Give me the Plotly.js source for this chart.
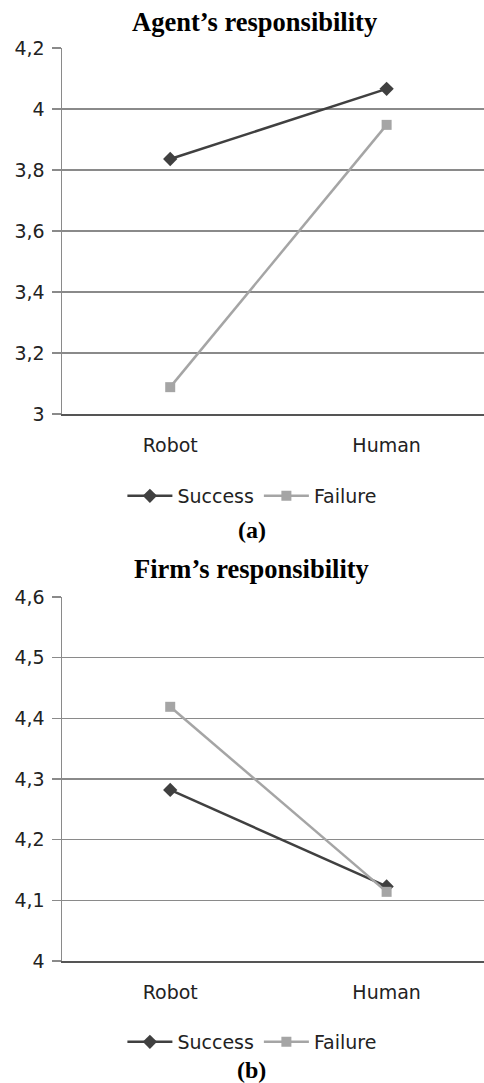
<!DOCTYPE html>
<html>
<head>
<meta charset="utf-8">
<script src="https://cdn.plot.ly/plotly-3.0.1.min.js"></script>
<style>html,body{margin:0;padding:0;background:#fff;}#chart{width:484px;height:1083px;}</style>
</head>
<body>
<div id="chart"></div>
<script>
const categories = ["Robot", "Human"];
const agentSuccess = [3.836, 4.066];
const agentFailure = [3.088, 3.948];
const firmSuccess = [4.282, 4.123];
const firmFailure = [4.419, 4.114];
const seriesNames = ["Success", "Failure"];
const agentTicks = [3, 3.2, 3.4, 3.6, 3.8, 4, 4.2];
const agentTickText = ["3", "3,2", "3,4", "3,6", "3,8", "4", "4,2"];
const firmTicks = [4, 4.1, 4.2, 4.3, 4.4, 4.5, 4.6];
const firmTickText = ["4", "4,1", "4,2", "4,3", "4,4", "4,5", "4,6"];
const titles = ["Agent\u2019s responsibility", "Firm\u2019s responsibility"];
const subLabels = ["(a)", "(b)"];

const H = 1083;
const py = px => 1 - px / H;
const darkC = "#404040", lightC = "#a5a5a5";
const tickFont = {family: "DejaVu Sans", size: 19, color: "#222"};

function mk(name, y, xa, ya, color, sym, leg) {
  return {
    x: categories, y: y, xaxis: xa, yaxis: ya, name: name, legend: leg,
    type: "scatter", mode: "lines+markers", showlegend: true,
    line: {color: color, width: 2.5},
    marker: {symbol: sym, size: sym === "diamond" ? 11 : 10, color: color}
  };
}

const data = [
  mk(seriesNames[0], agentSuccess, "x", "y", darkC, "diamond", "legend"),
  mk(seriesNames[1], agentFailure, "x", "y", lightC, "square", "legend"),
  mk(seriesNames[0], firmSuccess, "x2", "y2", darkC, "diamond", "legend2"),
  mk(seriesNames[1], firmFailure, "x2", "y2", lightC, "square", "legend2")
];

function xax(anchor) {
  return {
    anchor: anchor, type: "category", range: [-0.5, 1.45], domain: [0, 1],
    showgrid: false, showline: true, linecolor: "#555", linewidth: 1.5,
    ticks: "", tickfont: tickFont, ticklabelstandoff: 14, zeroline: false, fixedrange: true
  };
}
function yax(anchor, dom, rng, tv, tt) {
  return {
    anchor: anchor, domain: dom, range: rng, tickmode: "array", tickvals: tv, ticktext: tt,
    showgrid: true, gridcolor: "#8a8a8a", gridwidth: 1.2,
    showline: true, linecolor: "#8a8a8a", linewidth: 1.5,
    ticks: "outside", ticklen: 9, tickcolor: "#8a8a8a", tickwidth: 1.2,
    tickfont: tickFont, ticklabelstandoff: 3, zeroline: false, fixedrange: true
  };
}

const legendBase = {
  orientation: "h", xanchor: "center", yanchor: "middle", x: 0.45,
  font: {family: "DejaVu Sans", size: 19, color: "#222"},
  itemwidth: 45, bgcolor: "rgba(0,0,0,0)", traceorder: "normal", tracegroupgap: 0
};

const titleFont = {family: "Liberation Serif", size: 26.5, color: "#000"};
const subFont = {family: "Liberation Serif", size: 24, color: "#000"};

const layout = {
  width: 484, height: H,
  margin: {l: 62, r: 0, t: 0, b: 0},
  paper_bgcolor: "#fff", plot_bgcolor: "#fff",
  xaxis: xax("y"),
  yaxis: yax("x", [py(414), py(48)], [3, 4.2], agentTicks, agentTickText),
  xaxis2: xax("y2"),
  yaxis2: yax("x2", [py(961), py(597)], [4, 4.6], firmTicks, firmTickText),
  legend: Object.assign({}, legendBase, {y: py(496)}),
  legend2: Object.assign({}, legendBase, {y: py(1042)}),
  annotations: [
    {text: "<b>" + titles[0] + "</b>", xref: "paper", yref: "paper", x: 0.455, y: py(22), xanchor: "center", yanchor: "middle", showarrow: false, font: titleFont},
    {text: "<b>" + subLabels[0] + "</b>", xref: "paper", yref: "paper", x: 0.45, y: py(530), xanchor: "center", yanchor: "middle", showarrow: false, font: subFont},
    {text: "<b>" + titles[1] + "</b>", xref: "paper", yref: "paper", x: 0.45, y: py(569), xanchor: "center", yanchor: "middle", showarrow: false, font: titleFont},
    {text: "<b>" + subLabels[1] + "</b>", xref: "paper", yref: "paper", x: 0.45, y: py(1070), xanchor: "center", yanchor: "middle", showarrow: false, font: subFont}
  ]
};

Plotly.newPlot("chart", data, layout, {displayModeBar: false, staticPlot: true});
</script>
</body>
</html>
